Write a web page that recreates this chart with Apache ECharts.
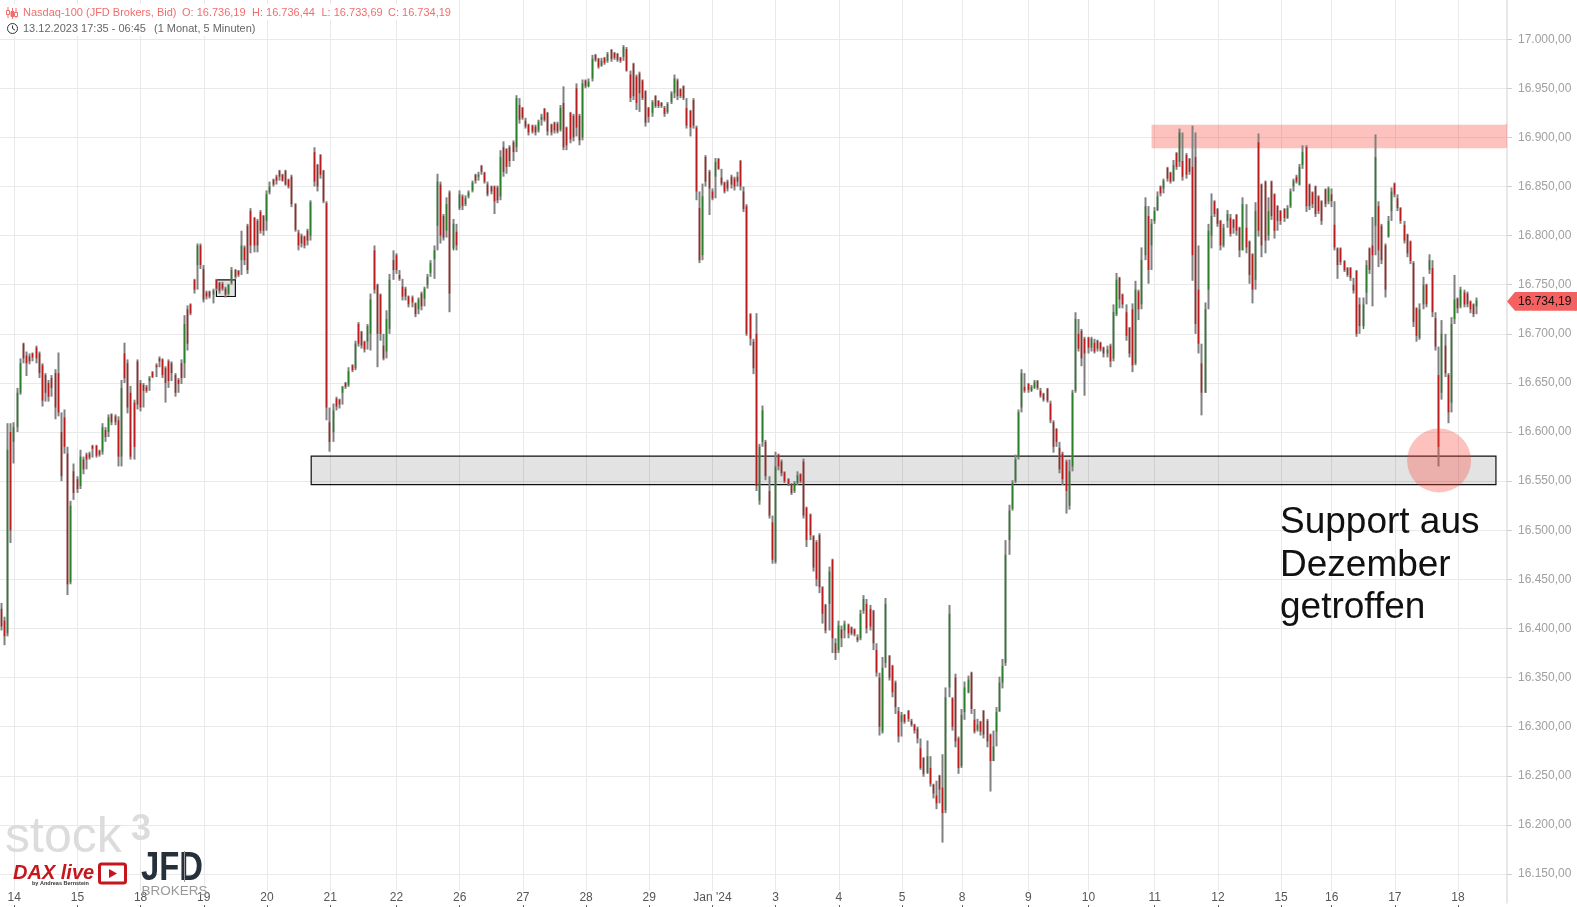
<!DOCTYPE html>
<html><head><meta charset="utf-8">
<style>html,body{margin:0;padding:0;background:#fff}#c{width:1577px;height:907px}</style>
<script src="https://cdn.jsdelivr.net/npm/echarts@6/dist/echarts.min.js"></script>
</head><body><div id="c"></div>
<script>
// each bar: [high, low, open, close]
const dec13to15 = [[16426,16398,16420,16402],[16412,16383,16408,16392],[16609,16392,16395,16582],[16609,16487,16600,16500],[16610,16568,16590,16605],[16645,16600,16605,16640],[16675,16638,16640,16670],[16691,16672,16690,16675],[16682,16657,16678,16670],[16680,16669,16677,16672],[16681,16674,16680,16676],[16688,16670,16686,16675],[16682,16655,16680,16660],[16670,16626,16668,16632],[16660,16631,16658,16640],[16653,16631,16650,16636],[16658,16640,16655,16645],[16664,16613,16660,16625],[16681,16616,16660,16620],[16605,16550,16600,16555],[16623,16578,16615,16585],[16580,16434,16578,16445],[16530,16445,16447,16525],[16568,16531,16560,16538],[16555,16538,16552,16542],[16582,16560,16545,16575],[16574,16557,16572,16562],[16579,16570,16577,16572],[16580,16572,16578,16574],[16587,16582,16586,16583],[16587,16574,16586,16576],[16582,16575,16581,16577],[16609,16594,16580,16605],[16604,16590,16602,16595],[16618,16609,16600,16615],[16619,16607,16618,16610],[16618,16607,16616,16610],[16616,16565,16612,16575],[16653,16565,16575,16645],[16691,16650,16680,16655]];
const dec15to19 = [[16674,16619,16670,16625],[16647,16572,16640,16575],[16633,16572,16630,16585],[16674,16623,16672,16628],[16653,16621,16650,16625],[16650,16640,16648,16642],[16648,16640,16646,16642],[16657,16650,16652,16655],[16662,16655,16661,16656],[16670,16664,16668,16666],[16677,16670,16675,16672],[16675,16655,16674,16658],[16667,16630,16665,16650],[16674,16645,16672,16652],[16672,16658,16670,16660],[16660,16636,16658,16640],[16655,16647,16653,16649],[16674,16652,16670,16655],[16719,16663,16670,16710],[16729,16683,16725,16690],[16731,16719,16730,16721],[16756,16741,16755,16745],[16792,16768,16770,16790],[16792,16766,16790,16770],[16768,16732,16766,16735],[16744,16736,16742,16738],[16744,16736,16743,16738],[16746,16731,16740,16744],[16756,16744,16755,16746],[16753,16741,16752,16744],[16753,16744,16751,16746],[16748,16737,16746,16740],[16751,16739,16741,16750],[16768,16754,16752,16765],[16766,16756,16765,16758],[16765,16758,16764,16760],[16805,16765,16775,16790],[16790,16770,16788,16775],[16812,16761,16810,16765],[16828,16782,16825,16790]];
const dec20to21 = [[16819,16783,16818,16790],[16817,16783,16815,16790],[16826,16802,16824,16805],[16821,16800,16820,16805],[16846,16829,16815,16842],[16855,16846,16844,16850],[16858,16850,16857,16852],[16862,16855,16860,16856],[16867,16858,16866,16860],[16863,16855,16862,16856],[16867,16851,16866,16852],[16858,16848,16857,16850],[16862,16829,16860,16832],[16833,16804,16832,16806],[16804,16785,16803,16790],[16802,16788,16800,16792],[16800,16787,16799,16790],[16807,16792,16805,16795],[16836,16802,16800,16834],[16890,16850,16885,16855],[16873,16845,16872,16850],[16883,16858,16882,16862],[16867,16833,16866,16835],[16835,16612,16833,16625],[16612,16580,16610,16590],[16629,16598,16600,16622],[16636,16624,16634,16626],[16634,16624,16633,16628],[16647,16641,16640,16646],[16651,16644,16650,16646],[16666,16656,16648,16662],[16669,16661,16668,16663],[16693,16680,16665,16690],[16712,16687,16710,16690],[16703,16685,16702,16688],[16693,16681,16692,16684],[16710,16690,16692,16708],[16741,16683,16700,16735],[16790,16741,16785,16745],[16751,16666,16750,16700]];
const dec22to27 = [[16741,16693,16740,16700],[16690,16673,16688,16675],[16724,16680,16682,16715],[16761,16700,16705,16755],[16785,16758,16775,16765],[16782,16761,16780,16765],[16761,16754,16760,16756],[16749,16734,16748,16738],[16748,16734,16746,16738],[16739,16727,16738,16730],[16739,16727,16737,16732],[16732,16717,16731,16720],[16737,16724,16725,16735],[16743,16724,16741,16728],[16748,16737,16736,16746],[16761,16753,16750,16758],[16775,16763,16762,16772],[16790,16756,16776,16785],[16863,16805,16810,16855],[16855,16792,16852,16800],[16822,16795,16820,16798],[16839,16799,16805,16832],[16846,16722,16844,16741],[16817,16787,16785,16812],[16805,16785,16804,16790],[16846,16826,16828,16842],[16841,16826,16840,16830],[16841,16833,16832,16838],[16846,16838,16840,16844],[16856,16848,16846,16854],[16863,16853,16862,16856],[16865,16856,16860,16862],[16872,16863,16871,16865],[16865,16853,16864,16855],[16853,16840,16852,16842],[16851,16843,16850,16845],[16851,16822,16850,16835],[16851,16833,16849,16836],[16887,16843,16840,16880],[16896,16860,16890,16865],[16889,16863,16888,16870],[16892,16872,16890,16876],[16897,16880,16895,16885],[16943,16901,16890,16940],[16935,16914,16933,16918],[16931,16918,16930,16920],[16918,16909,16917,16911],[16914,16902,16913,16905],[16913,16904,16912,16906],[16913,16902,16911,16905]];
const dec27to29 = [[16918,16909,16907,16916],[16924,16912,16918,16921],[16930,16916,16929,16918],[16926,16902,16925,16906],[16914,16902,16913,16905],[16916,16904,16915,16907],[16916,16904,16914,16906],[16933,16918,16908,16930],[16952,16887,16935,16890],[16911,16887,16910,16892],[16926,16894,16925,16898],[16924,16896,16922,16900],[16955,16901,16950,16910],[16924,16892,16922,16897],[16959,16901,16900,16955],[16959,16950,16958,16952],[16960,16952,16951,16957],[16984,16964,16960,16980],[16985,16977,16984,16979],[16981,16970,16980,16972],[16981,16972,16973,16978],[16982,16974,16981,16976],[16987,16977,16978,16985],[16990,16977,16989,16980],[16987,16979,16986,16981],[16986,16977,16985,16979],[16982,16976,16981,16978],[16994,16981,16982,16992],[16991,16967,16990,16968],[16965,16936,16964,16940],[16976,16938,16975,16942],[16964,16928,16962,16935],[16967,16926,16965,16945],[16959,16938,16958,16940],[16948,16911,16947,16915],[16931,16919,16930,16921],[16938,16930,16925,16936],[16943,16930,16942,16932],[16938,16930,16937,16932],[16936,16930,16935,16932],[16931,16921,16930,16924],[16936,16928,16926,16934],[16947,16938,16936,16945],[16964,16940,16945,16960],[16953,16938,16958,16942],[16950,16940,16949,16942],[16953,16938,16952,16940],[16931,16909,16930,16912],[16928,16901,16927,16910],[16940,16909,16938,16912]];
const jan2to3 = [[16912,16836,16910,16845],[16826,16772,16828,16775],[16853,16783,16780,16840],[16882,16850,16880,16855],[16867,16821,16865,16848],[16846,16836,16845,16838],[16879,16857,16860,16875],[16879,16867,16878,16868],[16860,16851,16859,16853],[16855,16843,16854,16845],[16857,16846,16855,16848],[16862,16850,16860,16852],[16860,16846,16858,16850],[16865,16851,16860,16855],[16877,16846,16876,16850],[16846,16824,16845,16827],[16832,16698,16830,16700],[16721,16688,16720,16695],[16693,16659,16692,16665],[16721,16540,16700,16545],[16588,16526,16530,16585],[16627,16587,16590,16622],[16592,16551,16590,16555],[16541,16512,16540,16515],[16510,16466,16508,16470],[16580,16466,16468,16565],[16578,16561,16577,16565],[16572,16555,16570,16558],[16560,16548,16559,16550],[16553,16545,16552,16547],[16548,16536,16547,16538],[16550,16543,16540,16548],[16560,16546,16548,16556],[16558,16548,16557,16550],[16573,16512,16570,16515]];
const jan3to5 = [[16524,16483,16523,16490],[16517,16490,16516,16495],[16495,16458,16494,16462],[16490,16443,16488,16450],[16497,16436,16495,16442],[16443,16405,16442,16415],[16425,16395,16424,16398],[16463,16422,16425,16458],[16471,16375,16470,16390],[16386,16368,16385,16375],[16408,16388,16378,16403],[16400,16381,16399,16390],[16408,16397,16398,16405],[16405,16390,16404,16395],[16402,16393,16401,16395],[16400,16392,16399,16394],[16392,16386,16391,16388],[16419,16402,16390,16415],[16434,16419,16418,16430],[16426,16395,16425,16400],[16424,16398,16420,16402],[16419,16378,16418,16385],[16380,16351,16378,16355],[16351,16291,16350,16300],[16371,16293,16295,16360],[16431,16371,16365,16425],[16373,16347,16372,16350],[16363,16330,16362,16335],[16347,16313,16345,16320],[16317,16284,16316,16290],[16315,16306,16305,16312],[16313,16303,16312,16305],[16317,16305,16316,16308],[16307,16300,16306,16302],[16303,16293,16302,16296],[16300,16283,16298,16288],[16279,16256,16278,16258],[16269,16249,16268,16252],[16286,16252,16253,16270],[16259,16239,16258,16242],[16242,16227,16241,16232],[16245,16216,16230,16222],[16251,16232,16250,16236],[16272,16182,16238,16212],[16340,16212,16215,16330],[16424,16360,16340,16415]];
const jan8to10 = [[16330,16296,16329,16300],[16354,16279,16350,16285],[16290,16252,16288,16258],[16318,16283,16260,16312],[16346,16307,16315,16340],[16352,16334,16335,16348],[16356,16313,16355,16318],[16308,16293,16307,16295],[16308,16298,16297,16302],[16306,16291,16305,16295],[16317,16288,16316,16292],[16308,16279,16306,16285],[16293,16234,16292,16265],[16296,16266,16265,16280],[16320,16303,16295,16315],[16351,16325,16316,16345],[16369,16339,16345,16362],[16490,16368,16365,16475],[16526,16497,16490,16520],[16551,16534,16522,16548],[16577,16555,16550,16572],[16623,16592,16575,16620],[16664,16626,16625,16660],[16647,16640,16646,16642],[16650,16640,16649,16643],[16648,16642,16641,16646],[16653,16645,16644,16651],[16653,16643,16652,16645],[16643,16635,16642,16637],[16640,16631,16639,16633],[16645,16630,16644,16632],[16630,16609,16629,16612],[16611,16579,16610,16585],[16604,16585,16603,16590],[16585,16558,16584,16562],[16580,16546,16578,16552],[16572,16517,16570,16540],[16572,16521,16525,16560],[16643,16570,16565,16640],[16722,16640,16642,16715]];
const jan10to11 = [[16702,16682,16700,16685],[16705,16667,16703,16675],[16697,16637,16695,16680],[16697,16682,16696,16686],[16697,16682,16686,16695],[16692,16680,16691,16682],[16694,16682,16693,16685],[16692,16682,16691,16684],[16687,16676,16686,16680],[16688,16676,16680,16684],[16690,16666,16688,16672],[16730,16678,16675,16722],[16762,16718,16720,16755],[16758,16726,16757,16735],[16741,16726,16740,16730],[16724,16693,16722,16698],[16707,16676,16706,16680],[16731,16661,16725,16668],[16754,16714,16670,16745],[16744,16714,16743,16725],[16788,16748,16730,16775],[16839,16799,16780,16830],[16822,16751,16820,16765],[16817,16802,16790,16812],[16829,16819,16815,16825],[16845,16826,16826,16840],[16851,16841,16850,16843],[16858,16850,16848,16856],[16870,16855,16869,16858],[16865,16853,16864,16855],[16877,16867,16856,16872],[16885,16867,16884,16870],[16909,16880,16875,16905],[16877,16856,16876,16860],[16884,16858,16882,16862],[16879,16862,16878,16865],[16912,16754,16870,16780],[16905,16700,16880,16710],[16790,16680,16745,16690],[16680,16617,16670,16640],[16732,16640,16640,16725]];
const jan12to15 = [[16812,16741,16745,16805],[16843,16787,16800,16820],[16836,16819,16835,16822],[16828,16809,16827,16812],[16816,16785,16815,16790],[16812,16788,16790,16808],[16826,16816,16815,16822],[16819,16799,16818,16802],[16817,16805,16816,16808],[16822,16800,16821,16805],[16809,16778,16808,16785],[16839,16785,16785,16832],[16809,16782,16808,16788],[16795,16751,16794,16760],[16782,16731,16781,16745],[16834,16760,16755,16825],[16904,16799,16895,16805],[16853,16778,16852,16790],[16856,16782,16855,16795],[16839,16799,16800,16825],[16856,16816,16855,16820],[16843,16797,16842,16805],[16831,16812,16830,16815],[16826,16811,16825,16815],[16828,16814,16827,16818],[16831,16817,16818,16828],[16848,16839,16830,16845],[16858,16851,16850,16856],[16862,16853,16860,16855],[16873,16851,16852,16870],[16892,16868,16872,16885],[16892,16824,16890,16830],[16853,16826,16852,16830],[16845,16828,16844,16832],[16851,16819,16850,16822],[16841,16822,16840,16825],[16836,16811,16835,16815],[16848,16829,16847,16832],[16850,16834,16835,16848],[16843,16829,16842,16835]];
const jan16to18 = [[16812,16785,16811,16788],[16788,16756,16787,16770],[16788,16771,16787,16773],[16775,16763,16774,16765],[16768,16758,16767,16760],[16768,16754,16767,16757],[16751,16741,16750,16744],[16765,16697,16764,16700],[16737,16700,16730,16708],[16737,16720,16705,16730],[16775,16744,16742,16770],[16788,16761,16787,16765],[16819,16728,16790,16780],[16903,16809,16810,16880],[16835,16768,16830,16785],[16812,16771,16810,16775],[16792,16737,16790,16745],[16820,16798,16799,16815],[16849,16832,16825,16845],[16854,16839,16853,16842],[16839,16825,16838,16828],[16829,16812,16828,16815],[16812,16792,16811,16795],[16802,16778,16801,16782],[16795,16771,16794,16774],[16773,16707,16772,16712],[16727,16692,16726,16698],[16731,16694,16696,16725],[16758,16727,16730,16750],[16751,16727,16750,16730],[16781,16761,16765,16775],[16768,16717,16767,16722],[16717,16683,16716,16687],[16660,16565,16658,16585],[16714,16633,16640,16700],[16690,16656,16688,16660],[16660,16609,16658,16620],[16717,16673,16630,16710],[16760,16721,16715,16735],[16737,16721,16736,16726],[16748,16727,16728,16745],[16743,16727,16742,16730],[16743,16727,16741,16730],[16734,16721,16733,16725],[16731,16717,16730,16720],[16737,16727,16728,16734.19]];

const dayLabels = ['14','15','18','19','20','21','22','26','27','28','29',"Jan '24",'3','4','5','8','9','10','11','12','15','16','17','18'];
const dayStartBar = [4,24,44,64,84,104,125,145,165,185,205,225,245,265,285,304,325,344,365,385,405,421,441,461];
const slotCount = 477;
const maxBridge = 30;
const yTicks = [16150,16200,16250,16300,16350,16400,16450,16500,16550,16600,16650,16700,16750,16800,16850,16900,16950,17000];
const supportZone = {low:16546.5, high:16575.5, from:98, to:473};
const resistanceZone = {low:16889, high:16913, from:364, to:476};
const smallBox = {low:16738, high:16755, from:68, to:74};
const touchPoint = {bar:455, price:16571};

const allBars = [].concat(dec13to15,dec15to19,dec20to21,dec22to27,dec27to29,jan2to3,jan3to5,jan8to10,jan10to11,jan12to15,jan16to18);
const categories = [];
for (let i=0;i<slotCount;i++){const k=dayStartBar.indexOf(i);categories.push(k>=0?dayLabels[k]:'b'+i);}
// wick of a bar reaches back to the previous close, so the 5-minute path reads as one line
const wicks = allBars.map((b,i)=>{
  const prev=i?allBars[i-1][3]:b[2];
  const near=Math.abs(prev-b[2])<=maxBridge;
  return [b[2],b[3],near?Math.min(b[1],prev):b[1],near?Math.max(b[0],prev):b[0]];
});
const bodies = allBars.map(b=>[b[2],b[3],Math.min(b[2],b[3]),Math.max(b[2],b[3])]);
const fmt = v=>{const p=Number(v).toFixed(2).split('.');return p[0].replace(/\B(?=(\d{3})+$)/g,'.')+','+p[1];};

const RED='#b81c1c',GREEN='#2a7f2a',GREY='#808080',F='"Liberation Sans",Arial,sans-serif';
const T=(text,x,y,font,fill,extra)=>Object.assign({type:'text',z:100,silent:true,x,y,style:{text,font,fill,textVerticalAlign:'middle'}},extra||{});
const R=(x,y,w,h,fill,r)=>({type:'rect',z:90,silent:true,shape:{x,y,width:w,height:h,r:r||0},style:{fill}});
const LN=(x1,y1,x2,y2,stroke,lw)=>({type:'line',z:100,silent:true,shape:{x1,y1,x2,y2},style:{stroke,lineWidth:lw}});
const HC='#f26d6d';

const chart=echarts.init(document.getElementById('c'),null,{renderer:'canvas'});
chart.setOption({
 animation:false,
 grid:{left:0,right:70,top:0,height:903,containLabel:false},
 xAxis:{type:'category',data:categories,boundaryGap:true,
  axisLine:{show:false},
  axisTick:{show:true,alignWithLabel:true,length:4,customValues:dayStartBar,lineStyle:{color:'#666',width:1}},
  axisLabel:{inside:true,margin:-2,customValues:dayStartBar,color:'#555',fontSize:12,fontFamily:F,backgroundColor:'#fff',padding:[1,1,1,1],hideOverlap:false,formatter:v=>v},
  splitLine:{show:true,alignWithLabel:true,lineStyle:{color:'#e9e9e9',width:1}}},
 yAxis:{type:'value',position:'right',min:16120.5,max:17039.9,scale:true,
  axisLine:{show:true,lineStyle:{color:'#e0e0e0',width:1.5}},
  axisTick:{show:true,length:5,customValues:yTicks,lineStyle:{color:'#cfcfcf'}},
  axisLabel:{margin:11,customValues:yTicks,color:'#a0a0a0',fontSize:12,fontFamily:F,formatter:v=>fmt(v)},
  splitLine:{show:true,lineStyle:{color:'#e9e9e9',width:1}}},
 series:[
  {type:'candlestick',name:'wicks',silent:true,z:2,barWidth:0.4,data:wicks,
   itemStyle:{color:GREY,color0:GREY,borderColor:GREY,borderColor0:GREY,borderColorDoji:GREY,borderWidth:2}},
  {type:'candlestick',name:'bodies',silent:true,z:3,barWidth:0.4,data:bodies,
   itemStyle:{color:GREEN,color0:RED,borderColor:GREEN,borderColor0:RED,borderColorDoji:RED,borderWidth:1.5}},
  {type:'line',name:'notes',silent:true,z:5,data:[],
   markArea:{silent:true,data:[
    [{xAxis:supportZone.from,yAxis:supportZone.high,itemStyle:{color:'rgba(0,0,0,0.11)',borderColor:'#111',borderWidth:1.2}},{xAxis:supportZone.to,yAxis:supportZone.low}],
    [{xAxis:resistanceZone.from,yAxis:resistanceZone.high,itemStyle:{color:'rgba(250,70,55,0.33)',borderWidth:0}},{xAxis:resistanceZone.to,yAxis:resistanceZone.low}],
    [{xAxis:smallBox.from,yAxis:smallBox.high,itemStyle:{color:'rgba(0,0,0,0.11)',borderColor:'#111',borderWidth:1.2}},{xAxis:smallBox.to,yAxis:smallBox.low}]
   ]},
   markPoint:{silent:true,symbol:'circle',symbolSize:64,label:{show:false},itemStyle:{color:'rgba(250,70,55,0.33)'},
    data:[{coord:[touchPoint.bar,touchPoint.price]}]}}
 ],
 graphic:{elements:[
  R(0,4,453,16,'#fff'),R(0,20,258,16,'#fff'),
  // candlestick icon
  LN(8,7,8,18,HC,1),{type:'rect',z:100,silent:true,shape:{x:6.5,y:10.5,width:3,height:4},style:{fill:'#fff',stroke:HC}},
  LN(12.5,8,12.5,19,HC,1),{type:'rect',z:100,silent:true,shape:{x:11,y:11.5,width:3,height:5},style:{fill:HC,stroke:HC}},
  LN(16,8,16,18,HC,1),{type:'rect',z:100,silent:true,shape:{x:14.5,y:12.5,width:3,height:4},style:{fill:'#fff',stroke:HC}},
  T('Nasdaq-100 (JFD Brokers, Bid)',23,12.5,'11px '+F,HC),
  T('O: 16.736,19',182,12.5,'11px '+F,HC),T('H: 16.736,44',252,12.5,'11px '+F,HC),
  T('L: 16.733,69',321.5,12.5,'11px '+F,HC),T('C: 16.734,19',388,12.5,'11px '+F,HC),
  // clock icon
  {type:'circle',z:100,silent:true,shape:{cx:12.5,cy:28.5,r:5},style:{fill:'#fff',stroke:'#333',lineWidth:1}},
  {type:'polyline',z:100,silent:true,shape:{points:[[12.5,25.5],[12.5,28.5],[15,30]]},style:{fill:null,stroke:'#333',lineWidth:1}},
  T('13.12.2023 17:35 - 06:45',23,28.5,'11px '+F,'#666'),T('(1 Monat, 5 Minuten)',154,28.5,'11px '+F,'#666'),
  // last price tag
  {type:'polygon',z:100,silent:true,shape:{points:[[1507,301.5],[1515,292],[1577,292],[1577,310.7],[1515,310.7]]},style:{fill:'#f56060'}},
  T('16.734,19',1518,301.5,'12px '+F,'#111'),
  // band runs on to the price axis
  {type:'rect',z:6,silent:true,shape:{x:1505.4,y:124,width:1.6,height:23.7},style:{fill:'rgba(250,70,55,0.33)'}},
  // note
  {type:'text',z:100,silent:true,x:1280,y:501.5,style:{text:'Support aus\nDezember\ngetroffen',font:'37px '+F,fill:'#111',lineHeight:42.7,textVerticalAlign:'top'}},
  // logos
  T('stock',5,838,'50px '+F,'#dcdcdc'),T('3',131,830,'bold 36px '+F,'#dcdcdc'),
  T('DAX live',13,873.5,'italic bold 20px '+F,'#c4161c'),
  T('by Andreas Bernstein',32,883,'bold 5.5px '+F,'#333'),
  {type:'rect',z:100,silent:true,shape:{x:99.5,y:864,width:26,height:19,r:2},style:{fill:'#fff',stroke:'#c4161c',lineWidth:3}},
  {type:'polygon',z:101,silent:true,shape:{points:[[109,869],[109,878],[117,873.5]]},style:{fill:'#c4161c'}},
  {type:'text',z:100,silent:true,x:141,y:868.5,scaleX:0.8,style:{text:'JFD',font:'bold 41px '+F,fill:'#25303a',textVerticalAlign:'middle'}},
  LN(184.5,851,184.5,882,'#999',1),
  T('BROKERS',141.5,891,'13.5px '+F,'#999')
 ]}
});
</script></body></html>
